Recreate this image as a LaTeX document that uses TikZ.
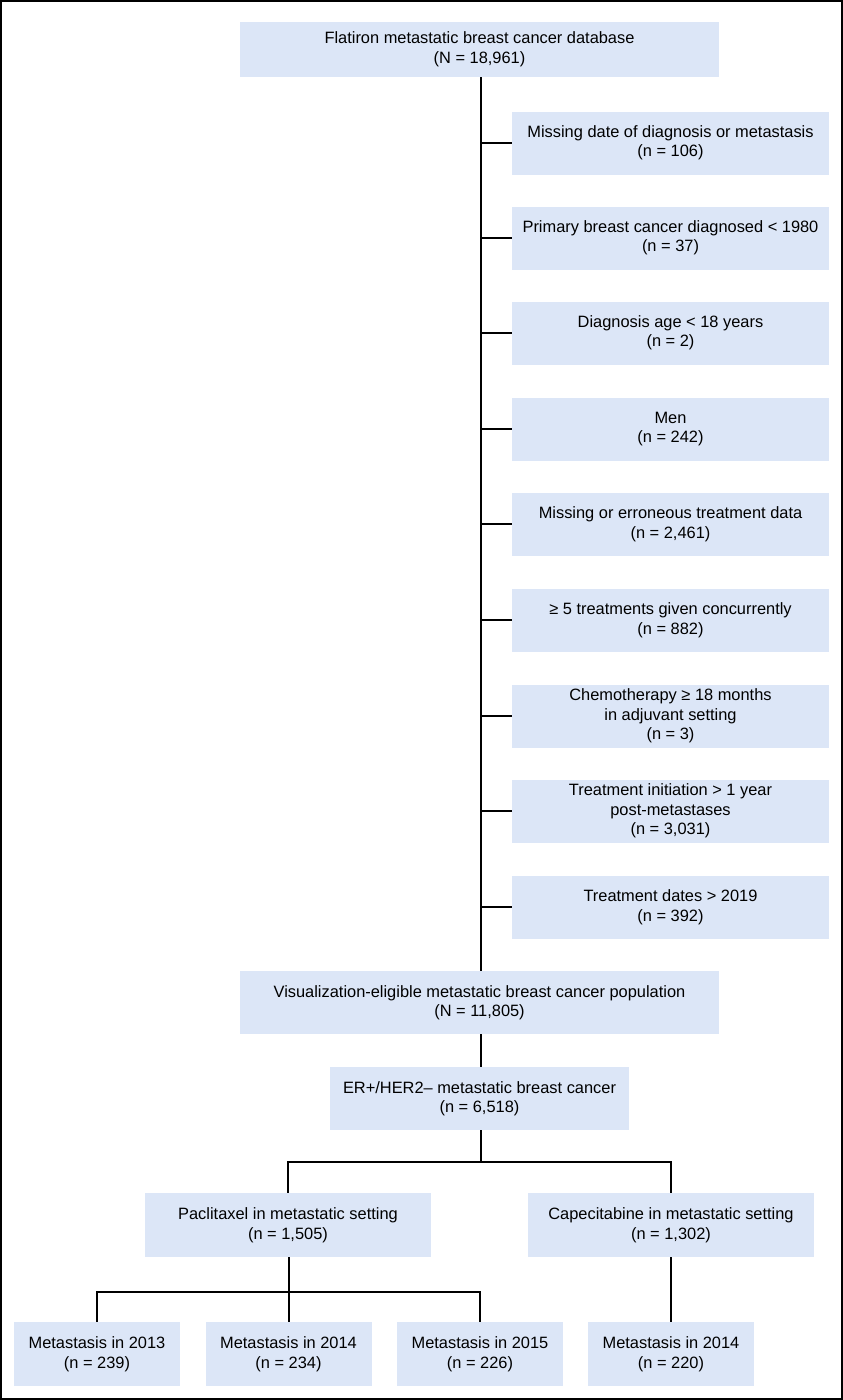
\documentclass[tikz,border=0pt]{standalone}
\usepackage{fontspec}
\setmainfont{Liberation Sans}
\definecolor{boxblue}{HTML}{DCE6F7}
\begin{document}
\begin{tikzpicture}[x=1pt,y=-1pt,
  box/.style={fill=boxblue,draw=none,align=center,inner sep=0pt,
    font=\fontsize{16.4}{19.5}\selectfont},
  conn/.style={line width=2pt,black}]
\useasboundingbox (0,0) rectangle (843,1400);
\draw[line width=1.6pt] (1,1) rectangle (842,1399);
% top
\node[box,minimum width=479,minimum height=55] (top) at (479.5,49.5)
  {Flatiron metastatic breast cancer database\\(N = 18,961)};
% exclusion boxes
\tikzset{ex/.style={box,minimum width=317,minimum height=63}}
\node[ex] (e1) at (670.5,143) {Missing date of diagnosis or metastasis\\(n = 106)};
\node[ex] (e2) at (670.5,238) {Primary breast cancer diagnosed < 1980\\(n = 37)};
\node[ex] (e3) at (670.5,333) {Diagnosis age < 18 years\\(n = 2)};
\node[ex] (e4) at (670.5,429) {Men\\(n = 242)};
\node[ex] (e5) at (670.5,524) {Missing or erroneous treatment data\\(n = 2,461)};
\node[ex] (e6) at (670.5,620) {≥ 5 treatments given concurrently\\(n = 882)};
\node[ex] (e7) at (670.5,716) {Chemotherapy ≥ 18 months\\in adjuvant setting\\(n = 3)};
\node[ex] (e8) at (670.5,811) {Treatment initiation > 1 year\\post-metastases\\(n = 3,031)};
\node[ex] (e9) at (670.5,907) {Treatment dates > 2019\\(n = 392)};
% visualization
\node[box,minimum width=479,minimum height=63] (vis) at (479.5,1002.5)
  {Visualization-eligible metastatic breast cancer population\\(N = 11,805)};
\node[box,minimum width=299,minimum height=63] (er) at (479.5,1098.5)
  {ER+/HER2– metastatic breast cancer\\(n = 6,518)};
\node[box,minimum width=286,minimum height=64] (pac) at (288,1225)
  {Paclitaxel in metastatic setting\\(n = 1,505)};
\node[box,minimum width=286,minimum height=64] (cap) at (671,1225)
  {Capecitabine in metastatic setting\\(n = 1,302)};
\tikzset{bt/.style={box,minimum width=166,minimum height=64}}
\node[bt] (m13) at (97,1354) {Metastasis in 2013\\(n = 239)};
\node[bt] (m14) at (288.5,1354) {Metastasis in 2014\\(n = 234)};
\node[bt] (m15) at (480,1354) {Metastasis in 2015\\(n = 226)};
\node[bt] (c14) at (671,1354) {Metastasis in 2014\\(n = 220)};
% connectors
\coordinate (spineX) at (481,0);
\draw[conn] (top.south -| spineX) -- (vis.north -| spineX);
\foreach \i in {1,...,9}{
  \draw[conn] (e\i.west -| spineX) -- (e\i.west);
}
\draw[conn] (vis.south -| spineX) -- (er.north -| spineX);
\coordinate (j1) at (481,1162);
\draw[conn] (er.south -| spineX) -- (j1);
\draw[conn] (pac.north) -- (pac.north |- j1) -- (cap.north |- j1) -- (cap.north);
\coordinate (j2) at (289,1292);
\draw[conn] (pac.south -| j2) -- (j2);
\draw[conn] (m13.north) -- (m13.north |- j2) -- (m15.north |- j2) -- (m15.north);
\draw[conn] (j2) -- (m14.north -| j2);
\draw[conn] (cap.south) -- (c14.north);
\end{tikzpicture}
\end{document}
